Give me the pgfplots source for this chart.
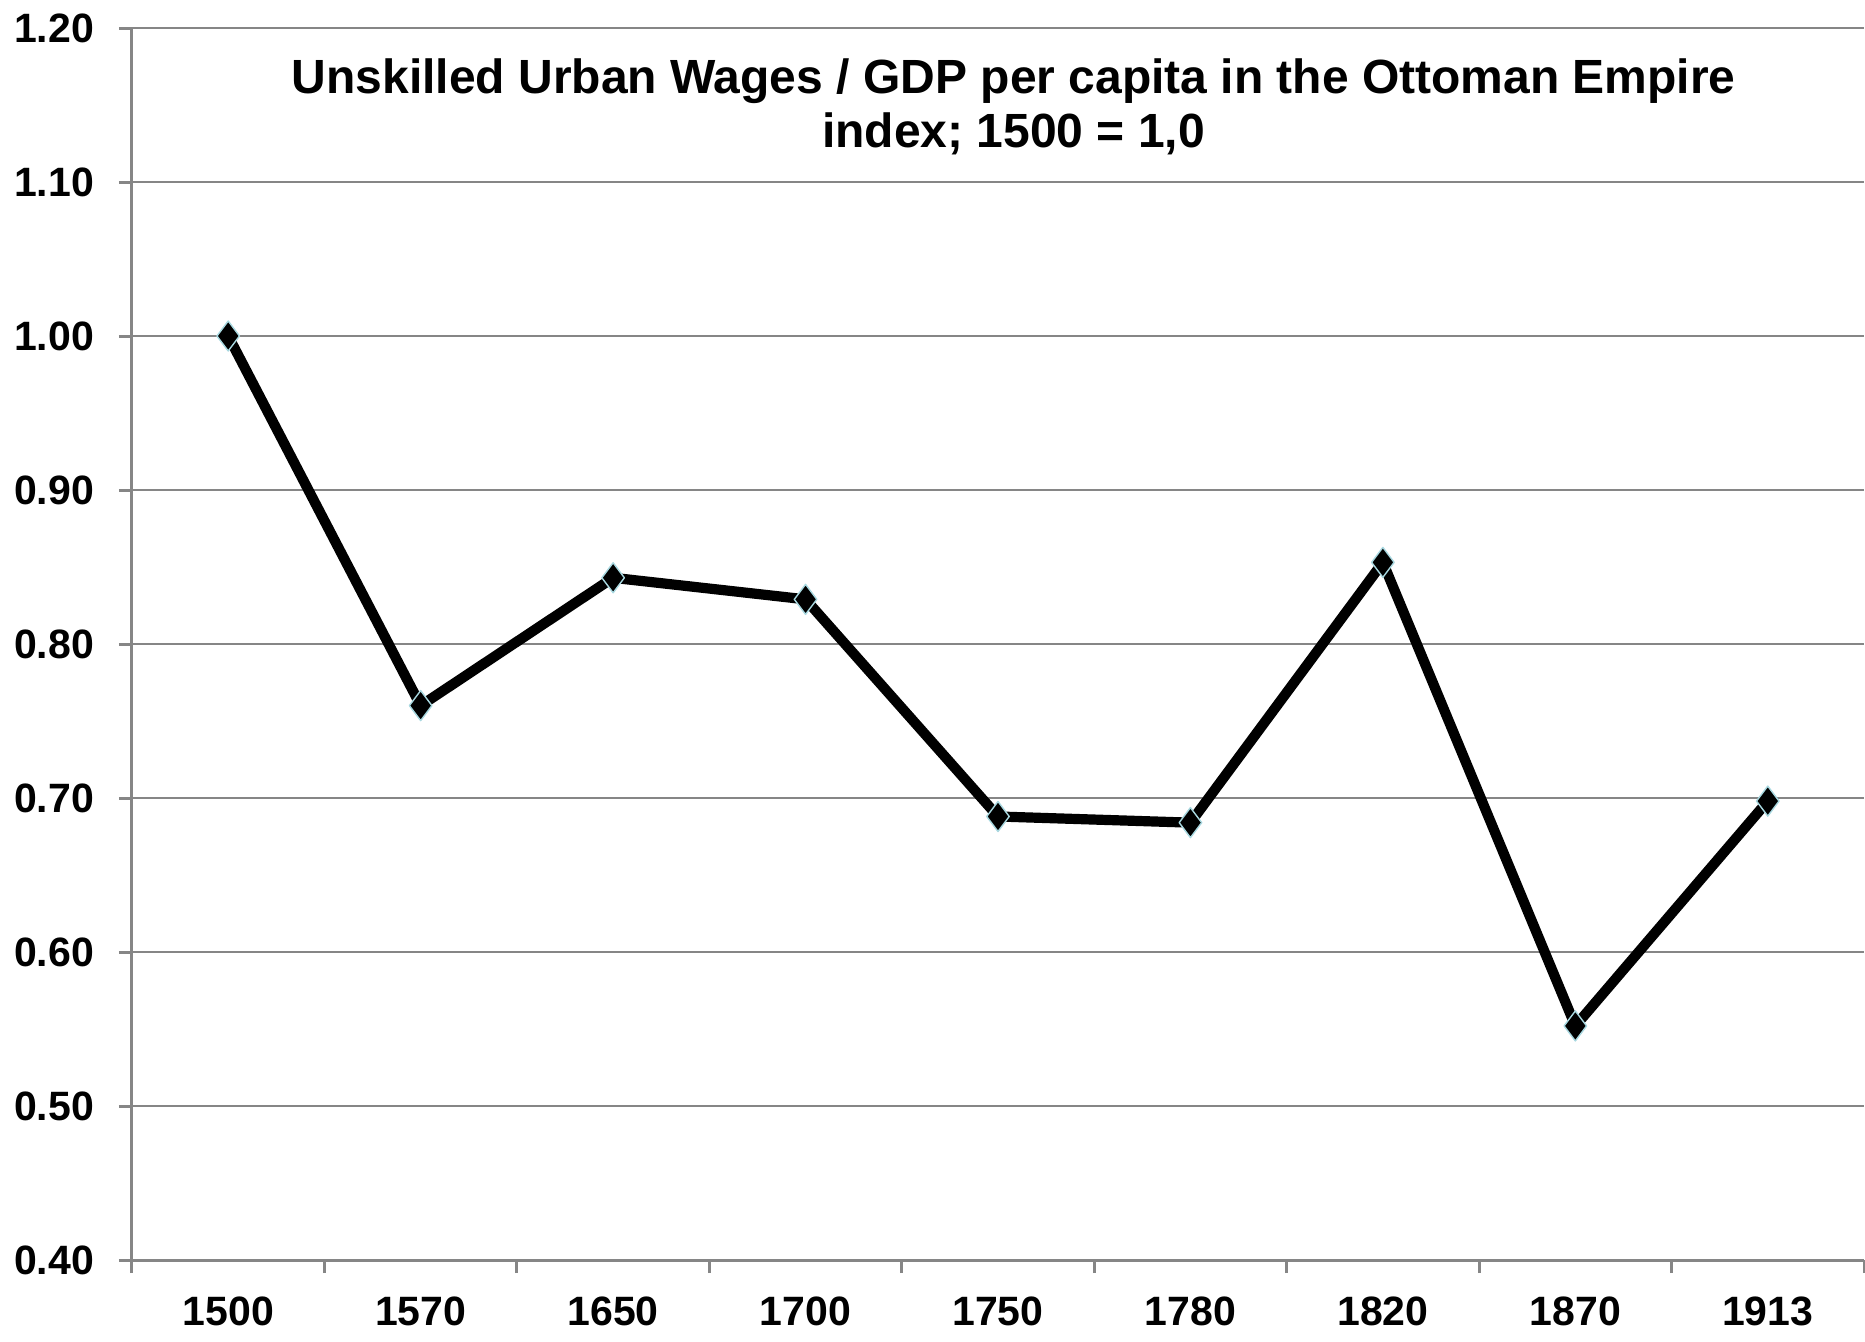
\documentclass[border=0pt]{standalone}
\usepackage{pgfplots}
\pgfplotsset{compat=1.18}
\usepackage{fontspec}
\setmainfont{Liberation Sans}
\definecolor{gridgray}{HTML}{868686}
\definecolor{markedge}{HTML}{A8D8E0}
\begin{document}
\begin{tikzpicture}
\begin{axis}[
  scale only axis,
  width=866pt, height=616pt,
  xmin=-0.5, xmax=8.5,
  ymin=0.4, ymax=1.2,
  axis x line=bottom, axis y line=left,
  axis line style={-, draw=gridgray, line width=1.5pt},
  xtick={0,...,8},
  xticklabels={1500,1570,1650,1700,1750,1780,1820,1870,1913},
  major x tick style={draw=none},
  minor xtick={-0.5,0.5,...,8.5},
  minor x tick style={draw=gridgray, line width=1.5pt},
  ytick={0.4,0.5,...,1.21},
  major y tick style={draw=gridgray, line width=1.5pt},
  tick align=outside,
  major tick length=6.5pt, minor tick length=6.5pt,
  ymajorgrids,
  major grid style={draw=gridgray, line width=0.75pt},
  /pgf/number format/assume math mode=true,
  yticklabel style={/pgf/number format/fixed, /pgf/number format/fixed zerofill, /pgf/number format/precision=2, font=\fontsize{20.5}{22}\selectfont\bfseries, xshift=-9pt},
  xticklabel style={font=\fontsize{20.5}{22}\selectfont\bfseries, yshift=-8.5pt},
  clip=false,
]
\coordinate (o) at (rel axis cs:0,0);
\addplot[black, line width=5.1pt, line join=round, mark=diamond*, mark size=7.5pt,
  mark options={fill=black, draw=markedge, line width=0.7pt}]
  coordinates {(0,1.000) (1,0.760) (2,0.843) (3,0.829) (4,0.688) (5,0.684) (6,0.853) (7,0.552) (8,0.698)};
\node[align=center, font=\fontsize{24}{27}\selectfont\bfseries] at (rel axis cs:0.509,0.936)
  {Unskilled Urban Wages / GDP per capita in the Ottoman Empire\\index; 1500 = 1,0};
\end{axis}
\pgfresetboundingbox
\path ([shift={(-66pt,-40.5pt)}]o) rectangle ++(932.5pt,670.5pt);
\end{tikzpicture}
\end{document}
